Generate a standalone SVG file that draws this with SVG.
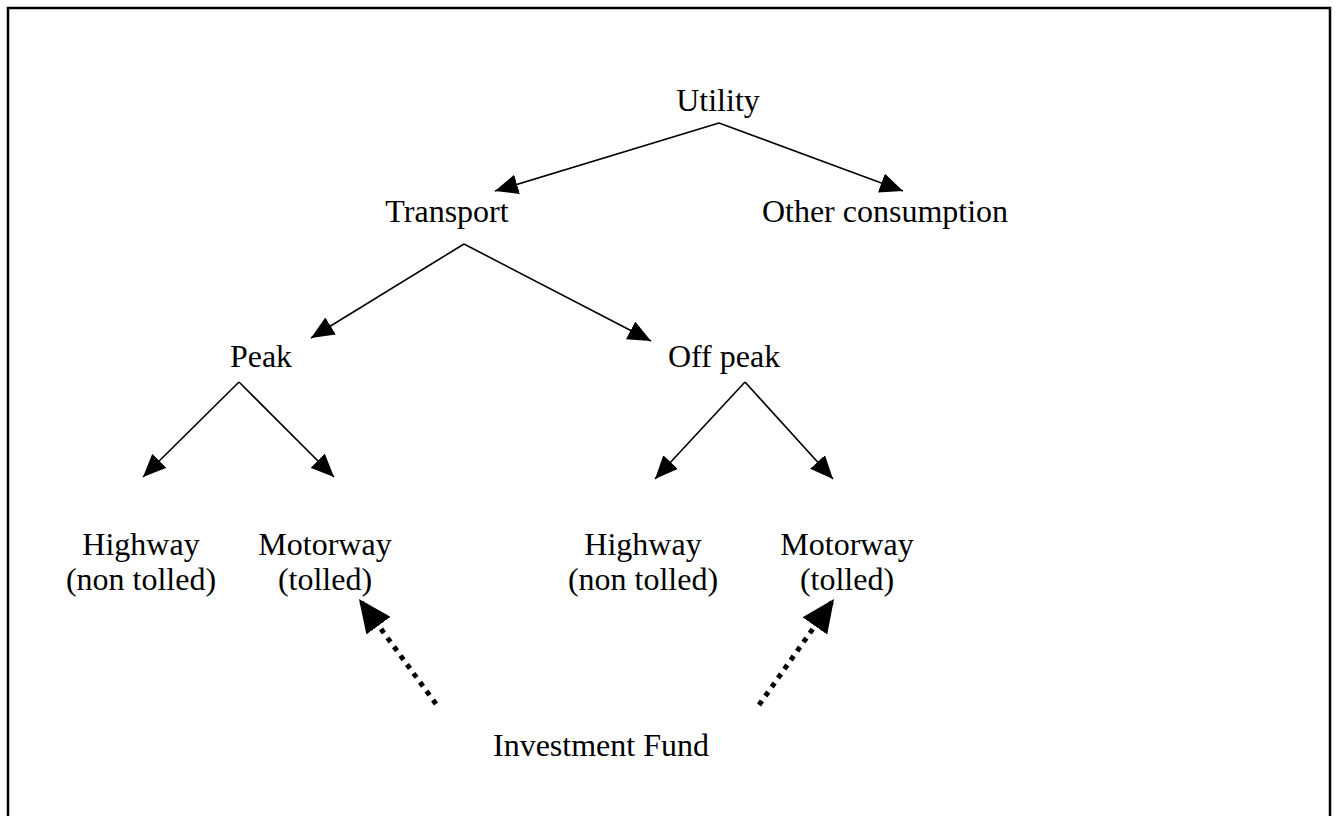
<svg xmlns="http://www.w3.org/2000/svg" width="1336" height="816" viewBox="0 0 1336 816">
<defs>
<style>
.t{font-family:"Liberation Serif","Times New Roman",serif;font-size:32px;fill:#000;text-anchor:middle}
.c{stroke:#000;stroke-width:1.6;fill:none}
.d{stroke:#000;stroke-width:5;fill:none;stroke-dasharray:5 6}
</style>
<marker id="ah" markerUnits="userSpaceOnUse" markerWidth="24" markerHeight="20" refX="23" refY="10" orient="auto">
<path d="M0,0 L23,10 L0,20 z" fill="#000"/>
</marker>
<marker id="ahd" markerUnits="userSpaceOnUse" markerWidth="34" markerHeight="30" refX="33" refY="15" orient="auto">
<path d="M0,0 L33,15 L0,30 z" fill="#000"/>
</marker>
</defs>
<rect x="0" y="0" width="1336" height="816" fill="#fff"/>
<rect x="8" y="8" width="1322" height="840" fill="none" stroke="#000" stroke-width="2.5"/>
<g id="connectors">
<line class="c" x1="719" y1="123" x2="495" y2="191" marker-end="url(#ah)"/>
<line class="c" x1="719" y1="123" x2="903" y2="191" marker-end="url(#ah)"/>
<line class="c" x1="464" y1="244" x2="311" y2="338" marker-end="url(#ah)"/>
<line class="c" x1="464" y1="244" x2="651" y2="341" marker-end="url(#ah)"/>
<line class="c" x1="239" y1="382" x2="143" y2="477" marker-end="url(#ah)"/>
<line class="c" x1="239" y1="382" x2="334" y2="477" marker-end="url(#ah)"/>
<line class="c" x1="745" y1="382" x2="655" y2="479" marker-end="url(#ah)"/>
<line class="c" x1="745" y1="382" x2="833" y2="479" marker-end="url(#ah)"/>
<line class="d" x1="436" y1="704" x2="359" y2="599" marker-end="url(#ahd)"/>
<line class="d" x1="759" y1="705" x2="834" y2="599" marker-end="url(#ahd)"/>
</g>
<g id="utility"><text class="t" x="718" y="111">Utility</text></g>
<g id="transport"><text class="t" x="447" y="222">Transport</text></g>
<g id="other"><text class="t" x="885" y="222">Other consumption</text></g>
<g id="peak"><text class="t" x="261" y="367">Peak</text></g>
<g id="offpeak"><text class="t" x="724" y="367">Off peak</text></g>
<g id="highway1"><text class="t" x="141" y="555">Highway</text><text class="t" x="141" y="590">(non tolled)</text></g>
<g id="motorway1"><text class="t" x="325" y="555">Motorway</text><text class="t" x="325" y="590">(tolled)</text></g>
<g id="highway2"><text class="t" x="643" y="555">Highway</text><text class="t" x="643" y="590">(non tolled)</text></g>
<g id="motorway2"><text class="t" x="847" y="555">Motorway</text><text class="t" x="847" y="590">(tolled)</text></g>
<g id="fund"><text class="t" x="601" y="756">Investment Fund</text></g>
</svg>
